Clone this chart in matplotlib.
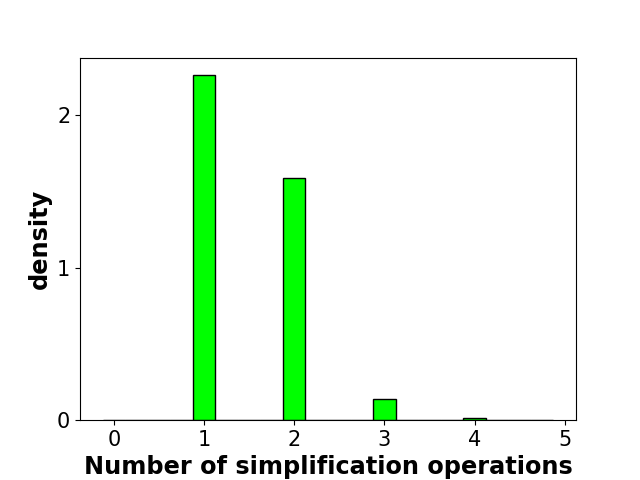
import numpy as np
import matplotlib
matplotlib.use("Agg")
import matplotlib.pyplot as plt

# number of simplification operations and fraction of samples
n_ops = [0, 1, 2, 3, 4]
fractions = [0.0, 0.5655, 0.397, 0.034, 0.0028]
bin_edges = np.arange(-0.125, 5, 0.25)

fig, ax = plt.subplots(figsize=(6.4, 4.8), dpi=100)
fig.subplots_adjust(bottom=0.125)

ax.hist(n_ops, bins=bin_edges, weights=fractions, density=True,
        color="lime", edgecolor="black")

ax.set_xticks([0, 1, 2, 3, 4, 5])
ax.set_yticks([0, 1, 2])
ax.tick_params(labelsize=15)
ax.set_xlabel("Number of simplification operations", fontsize="xx-large", fontweight="bold")
ax.set_ylabel("density", fontsize="xx-large", fontweight="bold")

fig.savefig("out.png")
